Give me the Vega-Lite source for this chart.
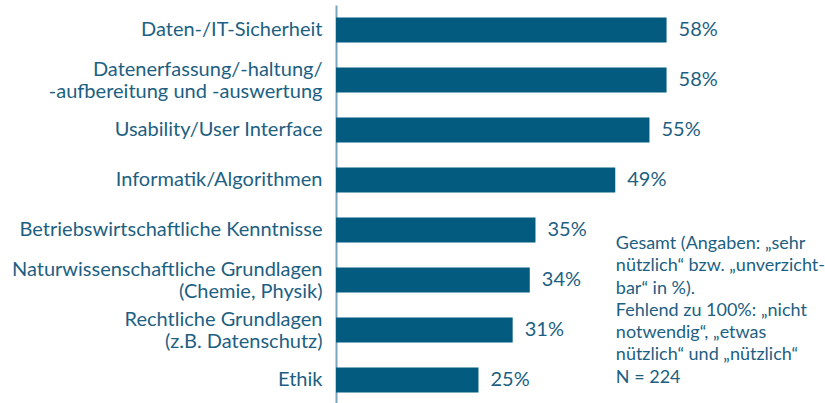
{
  "$schema": "https://vega.github.io/schema/vega-lite/v6.json",
  "autosize": {"type": "none"},
  "width": 489,
  "height": 398,
  "padding": {"left": 336, "top": 5, "right": 0, "bottom": 0},
  "background": "white",
  "config": {"view": {"stroke": null}, "font": "Lato"},
  "datasets": {
    "bars": [
      {"label": "Daten-/IT-Sicherheit", "pct": 58, "pct_text": "58%"},
      {"label": "Datenerfassung/-haltung/|-aufbereitung und -auswertung", "pct": 58, "pct_text": "58%"},
      {"label": "Usability/User Interface", "pct": 55, "pct_text": "55%"},
      {"label": "Informatik/Algorithmen", "pct": 49, "pct_text": "49%"},
      {"label": "Betriebswirtschaftliche Kenntnisse", "pct": 35, "pct_text": "35%"},
      {"label": "Naturwissenschaftliche Grundlagen|(Chemie, Physik)", "pct": 34, "pct_text": "34%"},
      {"label": "Rechtliche Grundlagen|(z.B. Datenschutz)", "pct": 31, "pct_text": "31%"},
      {"label": "Ethik", "pct": 25, "pct_text": "25%"}
    ],
    "note": [
      {"label": "Betriebswirtschaftliche Kenntnisse", "pct": 49.1, "text": ["Gesamt (Angaben: „sehr", "nützlich“ bzw. „unverzicht-", "bar“ in %).", "Fehlend zu 100%: „nicht", "notwendig“, „etwas", "nützlich“ und „nützlich“", "N = 224"]}
    ]
  },
  "encoding": {
    "y": {
      "field": "label", "type": "nominal", "sort": null,
      "scale": {"paddingInner": 0.5, "paddingOuter": 0.23, "align": 0.543,
        "domain": ["Daten-/IT-Sicherheit", "Datenerfassung/-haltung/|-aufbereitung und -auswertung", "Usability/User Interface", "Informatik/Algorithmen", "Betriebswirtschaftliche Kenntnisse", "Naturwissenschaftliche Grundlagen|(Chemie, Physik)", "Rechtliche Grundlagen|(z.B. Datenschutz)", "Ethik"]},
      "axis": {
        "title": null, "ticks": false, "grid": false,
        "domainColor": "#7ba4bf", "domainWidth": 2,
        "labelExpr": "split(datum.label, '|')",
        "labelFont": "Lato", "labelFontSize": 20, "labelColor": "#1d5f82",
        "labelPadding": 14, "labelLineHeight": 22, "labelLimit": 0,
        "labelOffset": {"condition": {"test": "indexof(datum.label, '|') >= 0", "value": -10}, "value": 0}
      }
    },
    "x": {
      "field": "pct", "type": "quantitative",
      "scale": {"domain": [0, 85.8], "nice": false, "zero": true},
      "axis": null
    }
  },
  "layer": [
    {
      "data": {"name": "bars"},
      "mark": {"type": "bar", "color": "#035b80"}
    },
    {
      "data": {"name": "bars"},
      "mark": {"type": "text", "align": "left", "baseline": "middle", "dx": 12, "fontSize": 20, "font": "Lato", "color": "#1d5f82"},
      "encoding": {"text": {"field": "pct_text", "type": "nominal"}}
    },
    {
      "data": {"name": "note"},
      "mark": {"type": "text", "align": "left", "baseline": "alphabetic", "dy": 19, "fontSize": 18, "lineHeight": 22.3, "font": "Lato", "color": "#1d5f82"},
      "encoding": {"text": {"field": "text", "type": "nominal"}}
    }
  ]
}
